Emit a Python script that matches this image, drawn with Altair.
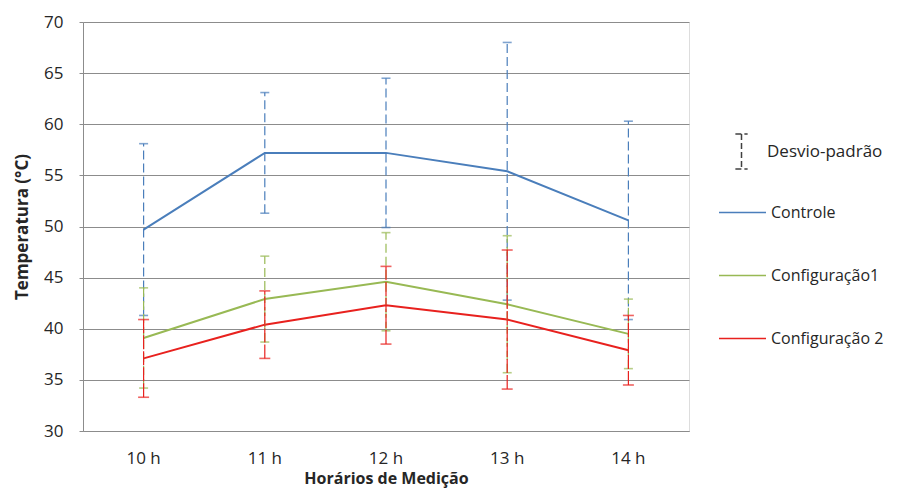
import altair as alt
import pandas as pd

hours = ["10 h", "11 h", "12 h", "13 h", "14 h"]
series = ["Controle", "Configuração1", "Configuração 2"]
controle_mean = [49.7, 57.2, 57.2, 55.4, 50.6]
controle_sd = [8.4, 5.9, 7.3, 12.6, 9.7]
config1_mean = [39.1, 42.9, 44.6, 42.4, 39.5]
config1_sd = [4.9, 4.2, 4.8, 6.7, 3.4]
config2_mean = [37.1, 40.4, 42.3, 40.9, 37.9]
config2_sd = [3.8, 3.3, 3.8, 6.8, 3.4]
colors = ["#4A7EBB", "#98B954", "#E8211E"]
sd_label = ["Desvio-padrão"]

rows = []
for name, means, sds in zip(series, [controle_mean, config1_mean, config2_mean],
                            [controle_sd, config1_sd, config2_sd]):
    for h, m, s in zip(hours, means, sds):
        rows.append({"hora": h, "serie": name, "media": m, "dp": s,
                     "lo": m - s, "hi": m + s, "desvio": sd_label[0]})
df = pd.DataFrame(rows)

FONT = "Open Sans"
GRID = "#8C8C8C"
TXT = "#262626"

x_enc = alt.X("hora:N", sort=hours,
              scale=alt.Scale(paddingInner=0, paddingOuter=0),
              axis=alt.Axis(title="Horários de Medição", labelAngle=0, ticks=False,
                            labelPadding=19, labelFontSize=17, labelColor=TXT,
                            titleFontSize=16, titleFontWeight="bold", titleColor=TXT,
                            titlePadding=4, domainColor=GRID, labelFont=FONT, titleFont=FONT))
y_scale = alt.Scale(domain=[30, 70], nice=False, zero=False)
y_axis = alt.Axis(title="Temperatura (°C)", values=list(range(30, 71, 5)), grid=True,
                  gridColor=GRID, gridOpacity=1, domainColor=GRID, tickColor=GRID,
                  tickSize=4, labelPadding=16, labelFontSize=17, labelColor=TXT,
                  titleFontSize=17, titleFontWeight="bold", titleColor=TXT,
                  titlePadding=12, labelFont=FONT, titleFont=FONT)
color_scale = alt.Scale(domain=series, range=colors)

base = alt.Chart(df)

lines = base.mark_line(strokeWidth=2).encode(
    x=x_enc,
    y=alt.Y("media:Q", scale=y_scale, axis=y_axis),
    color=alt.Color("serie:N", scale=color_scale, sort=series,
                    legend=alt.Legend(title=None, orient="none", legendX=635, legendY=166,
                                      symbolType="stroke", symbolSize=2209,
                                      symbolStrokeWidth=1.5, labelFontSize=16,
                                      labelFont=FONT, labelColor=TXT, labelOffset=4,
                                      rowPadding=30, padding=0)),
)

dashes = {"Controle": [9, 4], "Configuração1": [9, 4], "Configuração 2": [14, 2]}
caps_w = {"Controle": 9, "Configuração1": 9, "Configuração 2": 11}
err_layers = []
for s in series:
    sub = base.transform_filter(alt.datum.serie == s)
    err_layers.append(sub.mark_rule(strokeWidth=1.2, strokeDash=dashes[s]).encode(
        x=alt.X("hora:N", sort=hours),
        y=alt.Y("lo:Q", scale=y_scale),
        y2="hi:Q",
        color=alt.Color("serie:N", scale=color_scale, legend=None),
    ))
    for f in ["lo", "hi"]:
        err_layers.append(sub.mark_tick(thickness=1.6, size=caps_w[s], orient="horizontal").encode(
            x=alt.X("hora:N", sort=hours),
            y=alt.Y(f"{f}:Q", scale=y_scale),
            color=alt.Color("serie:N", scale=color_scale, legend=None),
        ))

sd_legend = base.mark_point(opacity=0).encode(
    x=alt.X("hora:N", sort=hours),
    y=alt.Y("media:Q", scale=y_scale),
    shape=alt.Shape("desvio:N",
                    scale=alt.Scale(domain=sd_label,
                                    range=["M-0.35,-1H0.35M0,-1V1M-0.35,1H0.35"]),
                    legend=alt.Legend(title=None, orient="none", legendX=640, legendY=111,
                                      symbolSize=1225, symbolStrokeColor="#404040",
                                      symbolFillColor="transparent", symbolStrokeWidth=1.5,
                                      symbolDash=[6, 3], symbolOpacity=1,
                                      labelFontSize=17, labelFont=FONT, labelColor=TXT,
                                      labelOffset=7, padding=0)),
)

chart = alt.layer(lines, *err_layers, sd_legend).resolve_legend(
    color="independent", shape="independent"
).properties(
    width=606, height=409, autosize="none",
    padding={"left": 75, "top": 14, "right": 205, "bottom": 58},
).configure_view(stroke=None).configure(background="white")

chart.save("out.html", embed_options={"renderer": "svg", "actions": False})
